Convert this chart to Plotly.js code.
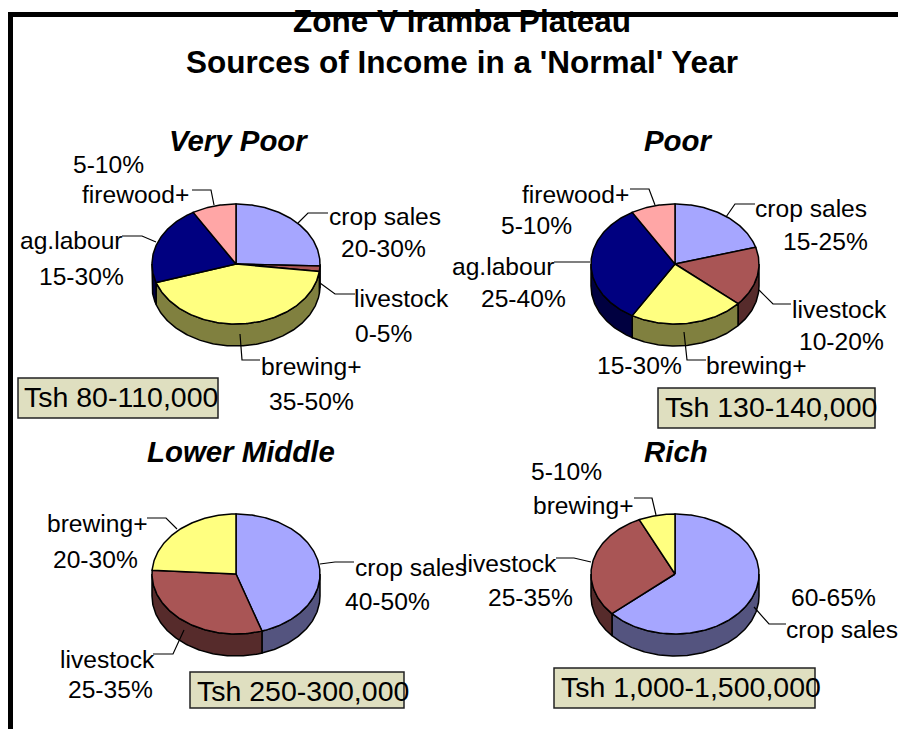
<!DOCTYPE html>
<html>
<head>
<meta charset="utf-8">
<script src="https://cdn.plot.ly/plotly-3.0.1.min.js"></script>
<style>html,body{margin:0;padding:0;background:#fff;overflow:hidden}#chart{width:898px;height:729px}</style>
</head>
<body>
<div id="chart"></div>
<script>
// ---- data (percent of income, clockwise from 12 o'clock)
const groupNames = ['Very Poor', 'Poor', 'Lower Middle', 'Rich'];
const incomeLabels = ['Tsh 80-110,000', 'Tsh 130-140,000', 'Tsh 250-300,000', 'Tsh 1,000-1,500,000'];

const veryPoorCategories = ['crop sales', 'livestock', 'brewing+', 'ag.labour', 'firewood+'];
const veryPoorValues = [25.5, 1.5, 43, 21.5, 8.5];
const veryPoorRanges = ['20-30%', '0-5%', '35-50%', '15-30%', '5-10%'];

const poorCategories = ['crop sales', 'livestock', 'brewing+', 'ag.labour', 'firewood+'];
const poorValues = [20.5, 16, 22, 33, 8.5];
const poorRanges = ['15-25%', '10-20%', '15-30%', '25-40%', '5-10%'];

const lowerMiddleCategories = ['crop sales', 'livestock', 'brewing+'];
const lowerMiddleValues = [45, 31, 24];
const lowerMiddleRanges = ['40-50%', '25-35%', '20-30%'];

const richCategories = ['crop sales', 'livestock', 'brewing+'];
const richValues = [63.5, 29.5, 7];
const richRanges = ['60-65%', '25-35%', '5-10%'];

// ---- styles
const topColours = {'crop sales':'#A6A6FF','livestock':'#A95555','brewing+':'#FFFF80','ag.labour':'#000080','firewood+':'#FFA6A6'};
const sideColours = {'crop sales':'#54547F','livestock':'#562B2B','brewing+':'#80803F','ag.labour':'#000040','firewood+':'#805353'};
const LABEL = 24.6, FONT = 'Liberation Sans, Arial, sans-serif';
const RX = 84, RY = 60, DEPTH = 22;

// ---- layout of each pie: centre, category label, range label, leader path (chart pixels)
const pieLayout = [
  {cx:236, cy:264, box:[18,378,218,418], inc:[22,397], head:[238,140], items:[
    {name:[385,216], range:[383,248], lead:[[328,213],[308,213],[298,223]]},
    {name:[401,298], range:[383,333], lead:[[355,294],[335,294],[320,283]]},
    {name:[311,366], range:[311,401], lead:[[260,360],[242,360],[240,334]]},
    {name:[71,240],  range:[81,276],  lead:[[122,236],[142,236],[156,242]]},
    {name:[135,194], range:[108,164], lead:[[192,190],[211,190],[214,205]]}]},
  {cx:675, cy:264, box:[658,388,875,428], inc:[663,407], head:[678,140], items:[
    {name:[811,208], range:[825,241], lead:[[755,204],[735,204],[726,217]]},
    {name:[839,309], range:[841,341], lead:[[791,304],[773,304],[759,290]]},
    {name:[756,365], range:[639,365], lead:[[706,360],[687,360],[684,332]]},
    {name:[503,266], range:[523,298], lead:[[554,262],[590,262]]},
    {name:[575,194], range:[536,225], lead:[[630,189],[649,189],[655,205]]}]},
  {cx:236, cy:574, box:[190,672,404,708], inc:[195,691], head:[241,451], items:[
    {name:[411,567], range:[387,601], lead:[[354,562],[335,562],[320,564]]},
    {name:[107,659], range:[110,689], lead:[[153,654],[173,654],[184,630]]},
    {name:[97,523],  range:[95,559],  lead:[[147,518],[166,518],[177,529]]}]},
  {cx:675, cy:574, box:[554,668,815,708], inc:[559,687], head:[676,451], items:[
    {name:[842,629], range:[833,597], lead:[[786,624],[769,624],[754,607]]},
    {name:[509,563], range:[530,597], lead:[[556,558],[574,558],[591,562]]},
    {name:[583,505], range:[566,471], lead:[[634,498],[652,498],[656,515]]}]}
];

const pieCats = [veryPoorCategories, poorCategories, lowerMiddleCategories, richCategories];
const pieVals = [veryPoorValues, poorValues, lowerMiddleValues, richValues];
const pieRanges = [veryPoorRanges, poorRanges, lowerMiddleRanges, richRanges];

const traces = [], annotations = [], shapes = [];
const rad = d => d * Math.PI / 180;
function arc(p, a, b, dy) {
  const xs = [], ys = [];
  const n = Math.max(2, Math.ceil(Math.abs(b - a)));
  for (let i = 0; i <= n; i++) {
    const t = rad(a + (b - a) * i / n);
    xs.push(p.cx + RX * Math.sin(t));
    ys.push(p.cy - RY * Math.cos(t) + dy);
  }
  return [xs, ys];
}
function poly(xs, ys, fill, name) {
  traces.push({type:'scatter', mode:'lines', x:xs, y:ys, fill:'toself', fillcolor:fill, name:name,
    line:{color:'#000', width:1.5}, hoverinfo:'name', showlegend:false});
}
function text(str, x, y, size, opts) {
  annotations.push(Object.assign({text:str, x:x, y:y, xref:'x', yref:'y', showarrow:false,
    font:{family:FONT, size:size, color:'#000'}, xanchor:'center', yanchor:'middle'}, opts || {}));
}

pieLayout.forEach((p, k) => {
  const cats = pieCats[k], vals = pieVals[k];
  const total = vals.reduce((a, b) => a + b, 0);
  let start = 0;
  const spans = vals.map(v => { const s = [start, start + v / total * 360]; start = s[1]; return s; });
  // side walls: only the part of each slice on the front half shows
  cats.forEach((c, i) => {
    const a = Math.max(spans[i][0], 90), b = Math.min(spans[i][1], 270);
    if (b <= a) return;
    const f = arc(p, a, b, 0), r = arc(p, b, a, DEPTH);
    poly(f[0].concat(r[0], [f[0][0]]), f[1].concat(r[1], [f[1][0]]), sideColours[c], c + ' side');
  });
  // top faces
  cats.forEach((c, i) => {
    const f = arc(p, spans[i][0], spans[i][1], 0);
    poly([p.cx].concat(f[0], [p.cx]), [p.cy].concat(f[1], [p.cy]), topColours[c], c);
  });
  // leaders and labels
  p.items.forEach((it, i) => {
    traces.push({type:'scatter', mode:'lines', x:it.lead.map(q => q[0]), y:it.lead.map(q => q[1]),
      line:{color:'#000', width:1.2}, hoverinfo:'skip', showlegend:false});
    text(cats[i], it.name[0], it.name[1], LABEL);
    text(pieRanges[k][i], it.range[0], it.range[1], LABEL);
  });
  shapes.push({type:'rect', xref:'x', yref:'y', x0:p.box[0], y0:p.box[1], x1:p.box[2], y1:p.box[3],
    fillcolor:'#DFDFC0', line:{color:'#222', width:1.5}, layer:'below'});
  text(incomeLabels[k], p.inc[0], p.inc[1], 28.5, {xanchor:'left'});
  text('<b><i>' + groupNames[k] + '</i></b>', p.head[0], p.head[1], 29.4);
});

// outer frame (left and top edges only reach the window)
shapes.push({type:'rect', xref:'x', yref:'y', x0:8, x1:13, y0:12, y1:729, fillcolor:'#000', line:{width:0}});
shapes.push({type:'rect', xref:'x', yref:'y', x0:8, x1:898, y0:12, y1:17, fillcolor:'#000', line:{width:0}});

Plotly.newPlot('chart', traces, {
  width:898, height:729, margin:{l:0, r:0, t:0, b:0, pad:0},
  paper_bgcolor:'#fff', plot_bgcolor:'#fff', showlegend:false,
  title:{text:"<b>Zone V Iramba Plateau<br>Sources of Income in a 'Normal' Year</b>",
    x:462/898, xanchor:'center', xref:'container', y:1-32/729, yanchor:'top', yref:'container',
    font:{family:FONT, size:31.5, color:'#000'}},
  xaxis:{range:[0,898], visible:false, fixedrange:true},
  yaxis:{range:[729,0], visible:false, fixedrange:true},
  shapes:shapes, annotations:annotations
}, {displayModeBar:false, responsive:false});
</script>
</body>
</html>
